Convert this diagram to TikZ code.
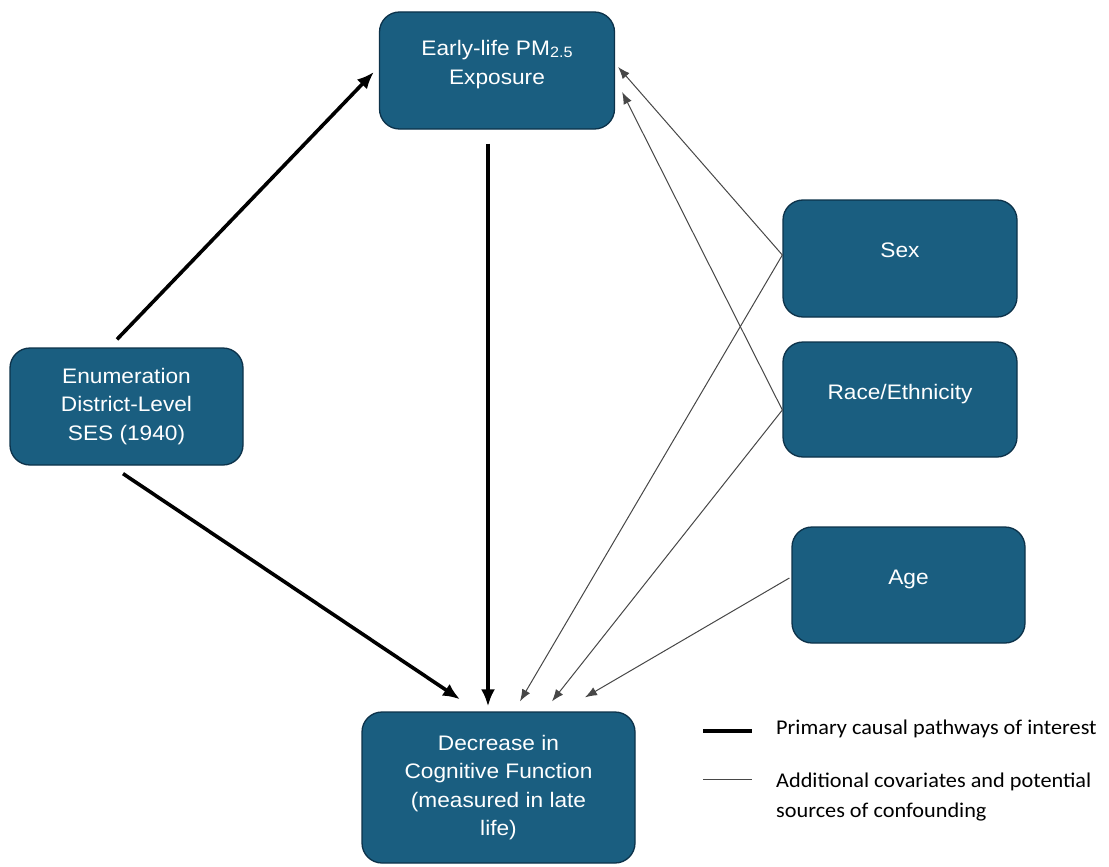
\documentclass[tikz,border=0pt]{standalone}
\usepackage{fontspec}
\setmainfont{Liberation Sans}[FakeStretch=1.08]
\newfontfamily\legendfont{Carlito}[FakeStretch=1.06]
\usetikzlibrary{arrows.meta}

\definecolor{boxblue}{RGB}{26,94,128}
\definecolor{boxedge}{RGB}{12,50,74}
\tikzset{
    factor/.style={draw=boxedge, line width=1.3pt, fill=boxblue, rounded corners=20pt,
        text=white, align=center, font=\fontsize{21}{28.5}\selectfont,
        minimum width=233pt, minimum height=117pt, inner sep=0pt},
    raised/.style={text depth=16pt},
    primary/.style={line width=3.6pt, -{Latex[length=17pt,width=14pt]}},
    covariate/.style={draw=black!72, line width=1pt, -{Latex[length=12pt,width=9pt]}},
    legendtext/.style={anchor=west, align=left, inner sep=0pt,
        font=\legendfont\fontsize{21}{30}\selectfont},
}

\begin{document}
\begin{tikzpicture}[x=1pt, y=-1pt] % DAG: early-life exposure and later cognition
    \useasboundingbox (0,0) rectangle (1109,867);

    \node[factor, raised, minimum width=235pt] (pm) at (497,70.5)
        {Early-life PM\raisebox{-2pt}{\fontsize{15}{15}\selectfont 2.5}\\Exposure};
    \node[factor] (ses) at (126.5,406.5) {Enumeration\\District-Level\\SES (1940)};
    \node[factor, raised, minimum width=234pt] (sex) at (900,258.5) {Sex};
    \node[factor, raised, minimum width=234pt, minimum height=115pt] (race) at (900,399.5) {Race/Ethnicity};
    \node[factor, raised, minimum height=116pt] (age) at (908.5,585) {Age};
    \node[factor, minimum width=273pt, minimum height=151pt] (dec) at (498.5,787.5)
        {Decrease in\\Cognitive Function\\(measured in late\\life)};

    % primary pathways
    \draw[primary] ([xshift=-9.5pt, yshift=8pt]ses.north) -- ([xshift=-5pt, yshift=-1.5pt]pm.west);
    \draw[primary] ([xshift=-9pt, yshift=-14pt]pm.south) -- ([xshift=-10.5pt, yshift=5pt]dec.north);
    \draw[primary] ([xshift=-3.5pt, yshift=-8pt]ses.south) -- ([xshift=-38.5pt, yshift=12pt]dec.north);

    % covariates
    \draw[covariate] ([yshift=3.5pt]sex.west) -- ([xshift=3pt, yshift=3.5pt]pm.east);
    \draw[covariate] ([yshift=3.5pt]sex.west) -- ([xshift=21.5pt, yshift=10pt]dec.north);
    \draw[covariate] ([yshift=-10.5pt]race.west) -- ([xshift=7pt, yshift=-21.5pt]pm.east);
    \draw[covariate] ([yshift=-10.5pt]race.west) -- ([xshift=53.5pt, yshift=10pt]dec.north);
    \draw[covariate] ([xshift=-2pt, yshift=7pt]age.west) -- ([xshift=86.5pt, yshift=14pt]dec.north);

    % legend
    \coordinate (k1a) at (703,731);
    \coordinate (k1b) at (752,731);
    \coordinate (k2a) at (703,779);
    \coordinate (k2b) at (752,779);
    \draw[line width=3.6pt] (k1a) -- (k1b);
    \draw[draw=black!72, line width=1pt] (k2a) -- (k2b);
    \node[legendtext] (key1) at (776,729) {Primary causal pathways of interest};
    \node[legendtext] (key2) at (776,797) {Additional covariates and potential\\sources of confounding};
\end{tikzpicture}
\end{document}
